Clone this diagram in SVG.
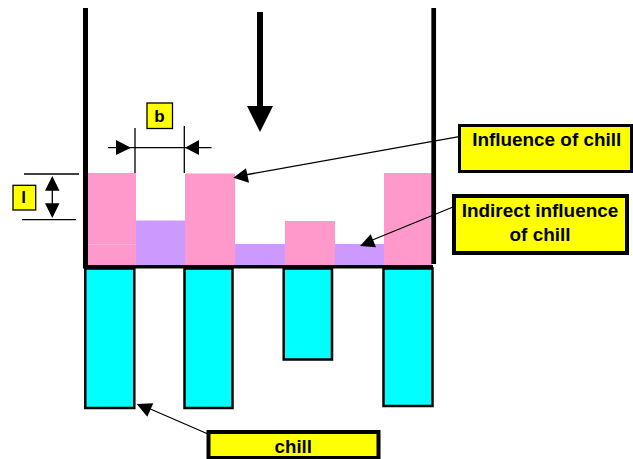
<svg xmlns="http://www.w3.org/2000/svg" width="633" height="459" viewBox="0 0 633 459">
<style>
.pink{fill:#ff99cc}
.purple{fill:#cc99ff}
.chill{fill:#00ffff;stroke:#000;stroke-width:2.500}
.box{fill:#ffff00;stroke:#000}
.wall{stroke:#000;fill:none}
.thin{stroke:#000;stroke-width:1.300;fill:none}
.ar{fill:#000}
text{font-family:"Liberation Sans",Arial,sans-serif;font-weight:700;fill:#000;text-anchor:middle}
</style>
<rect width="633" height="459" fill="#fff"/>
<g id="fills">
<rect class="pink" x="88" y="173" width="48" height="92"/>
<rect x="88" y="244" width="48" height="1" fill="#ffb0d8"/>
<rect class="purple" x="136" y="220.500" width="49" height="44.500"/>
<rect class="pink" x="185" y="173.500" width="50" height="91.500"/>
<rect class="purple" x="235" y="244" width="50" height="21"/>
<rect class="pink" x="285" y="221" width="50" height="44"/>
<rect class="purple" x="335" y="244" width="49" height="21"/>
<rect class="pink" x="384" y="173" width="48" height="92"/>
</g>
<g id="chill-bars">
<rect class="chill" x="85.300" y="268.500" width="49" height="139.500"/>
<rect class="chill" x="184.500" y="268.500" width="48" height="139.500"/>
<rect class="chill" x="283.700" y="268.500" width="48.300" height="91"/>
<rect class="chill" x="383.500" y="268.500" width="49" height="137.500"/>
</g>
<g id="container">
<path class="wall" stroke-width="5" d="M85.500 8V268"/>
<path class="wall" stroke-width="4.700" d="M433.700 8V264"/>
<path class="wall" stroke-width="3.500" d="M83 266.700H433"/>
</g>
<g id="connectors">
<path class="wall" stroke-width="6" d="M260 12V110"/>
<path class="ar" d="M247 106H273L260 132Z"/>
<path class="thin" d="M108 147.700H211.500M135 128V173M184.300 126V173"/>
<path class="ar" d="M116 140L131 147.700L116 155ZM199 140L185 147.700L199 155Z"/>
<path class="thin" d="M24 174H79M22 219.700H76M52.300 190V204"/>
<path class="ar" d="M52.300 176L59.500 190.700H45ZM52.300 218L59.500 203.300H45Z"/>
<path class="thin" d="M459 136.700L245 175"/>
<path class="ar" d="M233.300 177.700L246 168.300L249 182.700Z"/>
<path class="thin" d="M453 207L370 241"/>
<path class="ar" d="M360 246L370.700 234.300L376 247.300Z"/>
<path class="thin" d="M208 434L148 408"/>
<path class="ar" d="M136.700 404L153.300 403.300L147.300 416.700Z"/>
</g>
<g id="node-b">
<rect class="box" x="147" y="103" width="25.500" height="25.500" stroke-width="1.300"/>
<text x="159.500" y="121.700" font-size="17">b</text>
</g>
<g id="node-l">
<rect class="box" x="13" y="185.300" width="22.700" height="24.700" stroke-width="1.300"/>
<text x="23.700" y="203" font-size="17">l</text>
</g>
<g id="node-influence">
<rect class="box" x="459.500" y="125.500" width="172" height="46" stroke-width="3"/>
<text x="546.700" y="145.700" font-size="18.900">Influence of chill</text>
</g>
<g id="node-indirect">
<rect class="box" x="454" y="196" width="173" height="57" stroke-width="4"/>
<text x="540" y="216.700" font-size="18.900">Indirect influence</text>
<text x="540" y="240.700" font-size="18.900">of chill</text>
</g>
<g id="node-chill">
<rect class="box" x="208.500" y="432" width="170" height="26" stroke-width="4"/>
<text x="293.300" y="453.300" font-size="18.700">chill</text>
</g>
</svg>
